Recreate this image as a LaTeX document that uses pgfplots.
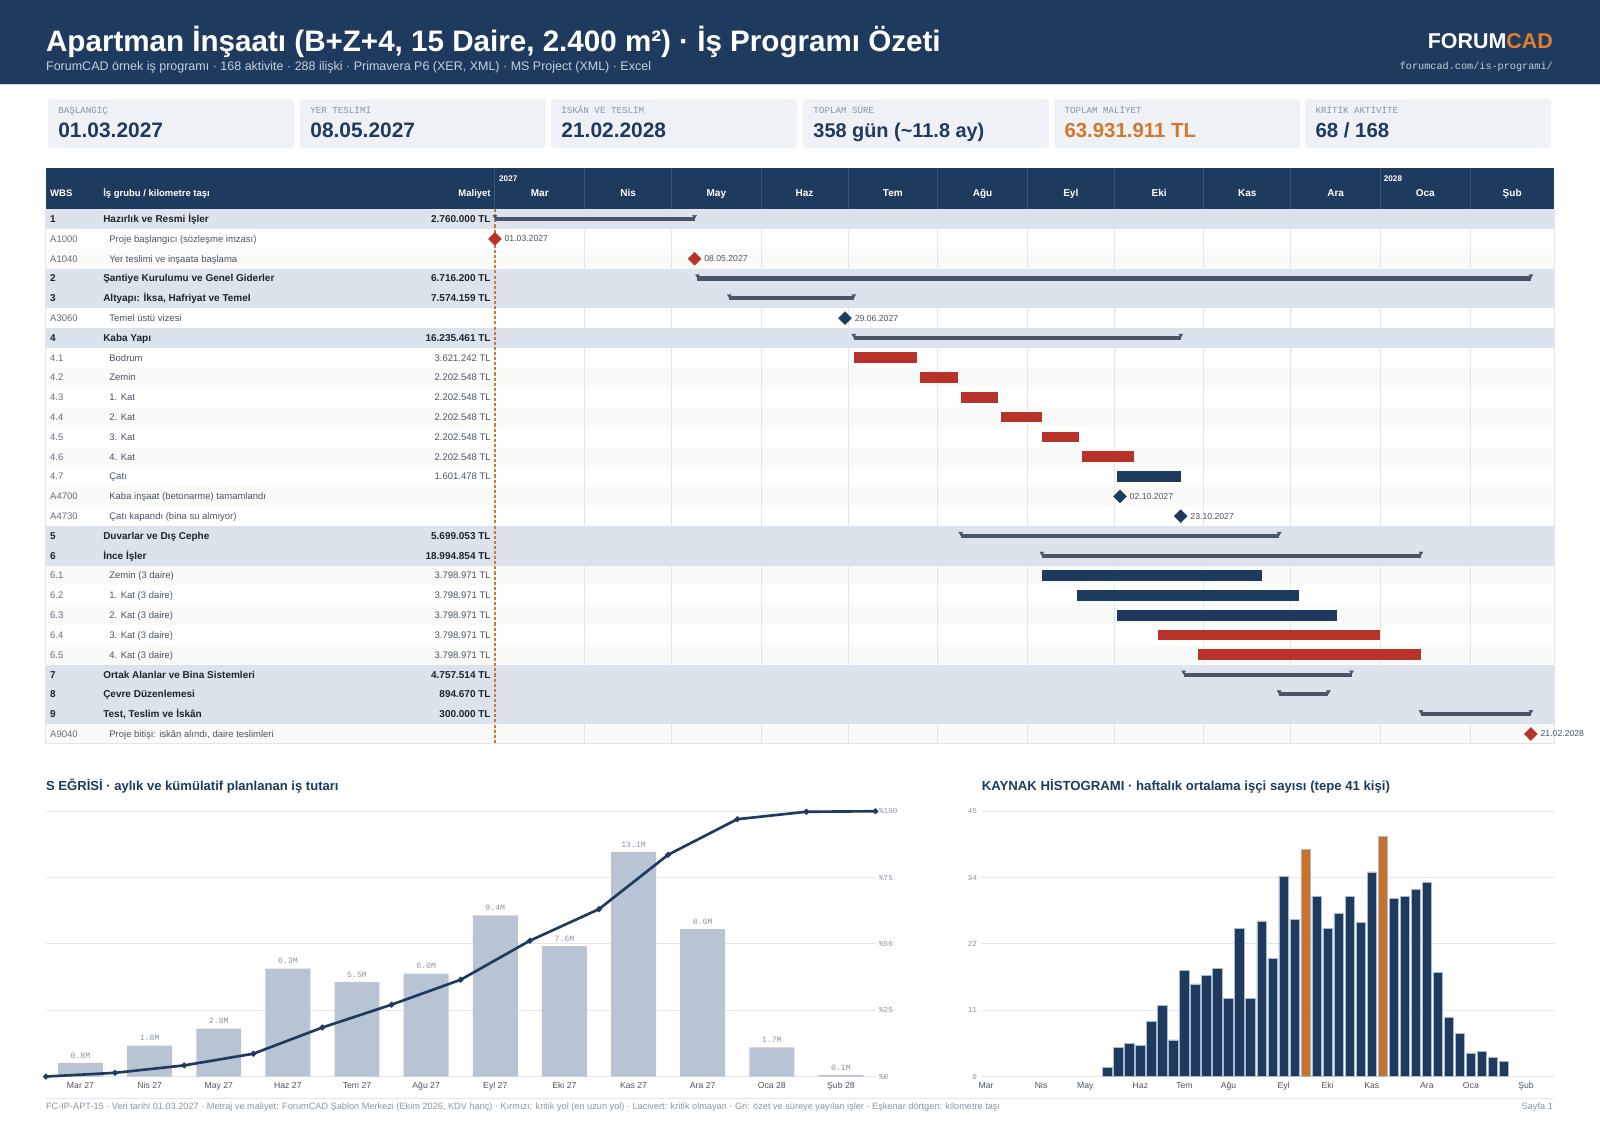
\documentclass[border=0pt]{standalone}
\usepackage{fontspec}
\setmainfont{Liberation Sans}
\setmonofont{Liberation Mono}
\usepackage{pgfplots}
\pgfplotsset{compat=1.18}
\usepackage{pgfplotstable}

\definecolor{navy}{HTML}{1F3A5F}
\definecolor{hdrsub}{HTML}{C5D0DF}
\definecolor{hline}{HTML}{D9DEE5}
\definecolor{orng}{HTML}{E07F2E}
\definecolor{orng2}{HTML}{D2772B}
\definecolor{crit}{HTML}{B8322A}
\definecolor{sumbar}{HTML}{4A5568}
\definecolor{sumbg}{HTML}{DCE3EC}
\definecolor{litebg}{HTML}{FAFAF8}
\definecolor{gridc}{HTML}{E2E5E9}
\definecolor{cardbg}{HTML}{EEF1F5}
\definecolor{lbl}{HTML}{8B95A4}
\definecolor{txtd}{HTML}{1C2430}
\definecolor{txtg}{HTML}{4B5563}
\definecolor{sbar}{HTML}{B8C4D4}
\definecolor{horng}{HTML}{C9722B}
\definecolor{hsep}{HTML}{3A557C}
\definecolor{hbord}{HTML}{A9BAD0}

\newcommand{\fs}[1]{\fontsize{#1}{#1}\selectfont}

% ---------- Gantt data (days from 01.03.2027; rows from top) ----------
\pgfplotstableread{
r s d
8 124 22
9 147 13
10 161 13
11 175 14
12 189 13
13 203 18
22 229 77
23 243 77
}\critbars
\pgfplotstableread{
r s d
14 215 22
19 189 76
20 201 77
21 215 76
}\normbars
\pgfplotstableread{
r s e
1 0 69
4 70 358
5 81 124
7 124 237
17 161 271
18 189 320
24 238 296
25 271 288
26 320 358
}\sumbars
\pgfplotstableread{
x r lab
0 2 01.03.2027
69 3 08.05.2027
358 27 21.02.2028
}\critms
\pgfplotstableread{
x r lab
121 6 29.06.2027
216 15 02.10.2027
237 16 23.10.2027
}\normms

% ---------- S curve ----------
\pgfplotstableread{
x y lab
0 0.8 0.8M
1 1.8 1.8M
2 2.8 2.8M
3 6.3 6.3M
4 5.5 5.5M
5 6.0 6.0M
6 9.4 9.4M
7 7.6 7.6M
8 13.1 13.1M
9 8.6 8.6M
10 1.7 1.7M
11 0.1 0.1M
}\monthly
\pgfplotstableread{
x p
-0.5 0
0.5 1.4
1.5 4.2
2.5 8.6
3.5 18.5
4.5 27.1
5.5 36.5
6.5 51.2
7.5 63.1
8.5 83.6
9.5 97.0
10.5 99.8
11.5 100
}\cumul

% ---------- Histogram (week index from 01.03.2027) ----------
\pgfplotstableread{
w n
11 1.6
12 4.9
13 5.6
14 5.3
15 9.3
16 12.0
17 6.2
18 18.0
19 15.7
20 17.1
21 18.4
22 13.3
23 25.1
24 13.3
25 26.4
26 20.0
27 34.0
28 26.7
30 30.5
31 25.1
32 27.6
33 30.5
34 26.2
35 34.7
37 30.2
38 30.5
39 31.8
40 32.9
41 17.7
42 10.0
43 7.3
44 4.0
45 4.3
46 3.3
47 2.5
}\weekly
\pgfplotstableread{
w n
29 38.5
36 40.8
}\weekpeak

\newcommand{\srow}[4]{%
\node[anchor=base west,inner sep=0,font=\fs{9.8}\bfseries,text=txtd] at (49,{205+19.407*(#1-0.5)+3.4}) {#2};%
\node[anchor=base west,inner sep=0,font=\fs{9.8}\bfseries,text=txtd] at (101,{205+19.407*(#1-0.5)+3.4}) {#3};%
\node[anchor=base east,inner sep=0,font=\fs{9.8}\bfseries,text=txtd] at (481,{205+19.407*(#1-0.5)+3.4}) {#4};}
\newcommand{\drow}[4]{%
\node[anchor=base west,inner sep=0,font=\fs{9.3},text=txtg!85] at (49,{205+19.407*(#1-0.5)+3.3}) {#2};%
\node[anchor=base west,inner sep=0,font=\fs{9.3},text=txtg] at (107,{205+19.407*(#1-0.5)+3.3}) {#3};%
\node[anchor=base east,inner sep=0,font=\fs{9.3},text=txtg] at (481,{205+19.407*(#1-0.5)+3.3}) {#4};}
\newcommand{\kpi}[5]{%
\fill[cardbg,rounded corners=3pt] (#1,97) rectangle ++(241,48);%
\node[anchor=base west,inner sep=0,font=\ttfamily\fs{9},text=lbl] at ({#1+10},111) {#2};%
\node[anchor=base west,inner sep=0,font=\fs{#5}\bfseries,text=#4] at ({#1+10},135) {#3};}

\begin{document}
\begin{tikzpicture}
\begin{scope}[x=1pt,y=-1pt]
\useasboundingbox (0,0) rectangle (1568,1109);
\fill[white] (0,0) rectangle (1568,1109);

% ---------- header ----------
\fill[navy] (0,0) rectangle (1568,82);
\fill[hline] (0,82) rectangle (1568,83.5);
\node[anchor=base west,inner sep=0,font=\fs{29}\bfseries,text=white] at (45,50) {Apartman İnşaatı (B+Z+4, 15 Daire, 2.400 m²) · İş Programı Özeti};
\node[anchor=base west,inner sep=0,font=\fs{12.25},text=hdrsub] at (45,69) {ForumCAD örnek iş programı · 168 aktivite · 288 ilişki · Primavera P6 (XER, XML) · MS Project (XML) · Excel};
\node[anchor=base east,inner sep=0,font=\fs{21}\bfseries,text=white] at (1522,48) {FORUM\textcolor{orng}{CAD}};
\node[anchor=base east,inner sep=0,font=\ttfamily\fs{10},text=hdrsub] at (1522,68) {forumcad.com/is-programi/};

% ---------- KPI cards ----------
\kpi{47}{BAŞLANGIÇ}{01.03.2027}{navy}{20.5}
\kpi{294}{YER TESLİMİ}{08.05.2027}{navy}{20.5}
\kpi{540}{İSKÂN VE TESLİM}{21.02.2028}{navy}{20.5}
\kpi{787}{TOPLAM SÜRE}{358 gün (\textasciitilde 11.8 ay)}{navy}{19.5}
\kpi{1033}{TOPLAM MALİYET}{63.931.911 TL}{orng2}{20}
\kpi{1279}{KRİTİK AKTİVİTE}{68 / 168}{navy}{20}

% ---------- Gantt table header ----------
\fill[navy] (45,165) rectangle (1523,205);
\foreach \xb in {485,572.9,658.0,745.9,831.0,918.9,1006.8,1091.9,1179.8,1264.9,1352.8,1440.7}
  \draw[hsep,line width=0.8] (\xb,165) -- (\xb,205);
\node[anchor=base west,inner sep=0,font=\fs{9.3}\bfseries,text=white] at (49,193) {WBS};
\node[anchor=base west,inner sep=0,font=\fs{9.3}\bfseries,text=white] at (101,193) {İş grubu / kilometre taşı};
\node[anchor=base east,inner sep=0,font=\fs{9.3}\bfseries,text=white] at (481,193) {Maliyet};
\node[anchor=base west,inner sep=0,font=\fs{8}\bfseries,text=white] at (489,178) {2027};
\node[anchor=base west,inner sep=0,font=\fs{8}\bfseries,text=white] at (1356,178) {2028};
\foreach \xm/\nm in {529/Mar,615.5/Nis,702/May,788.5/Haz,875/Tem,962.9/Ağu,1049.4/Eyl,1135.9/Eki,1222.4/Kas,1308.9/Ara,1396.8/Oca,1481.9/Şub}
  \node[anchor=base,inner sep=0,font=\fs{9.8}\bfseries,text=white] at (\xm,193) {\nm};

% ---------- Gantt rows ----------
\foreach \r in {3,9,11,13,15,19,21,23,27}
  \fill[litebg] (45,{205+19.407*(\r-1)}) rectangle (1523,{205+19.407*\r});
\foreach \xb in {572.9,658.0,745.9,831.0,918.9,1006.8,1091.9,1179.8,1264.9,1352.8,1440.7}
  \draw[gridc,line width=0.9] (\xb,205) -- (\xb,729);
\foreach \r in {1,4,5,7,17,18,24,25,26}
  \fill[sumbg] (45,{205+19.407*(\r-1)}) rectangle (1523,{205+19.407*\r});
\draw[gridc,line width=0.9] (45,205) rectangle (1523,729);

\srow{1}{1}{Hazırlık ve Resmi İşler}{2.760.000 TL}
\drow{2}{A1000}{Proje başlangıcı (sözleşme imzası)}{}
\drow{3}{A1040}{Yer teslimi ve inşaata başlama}{}
\srow{4}{2}{Şantiye Kurulumu ve Genel Giderler}{6.716.200 TL}
\srow{5}{3}{Altyapı: İksa, Hafriyat ve Temel}{7.574.159 TL}
\drow{6}{A3060}{Temel üstü vizesi}{}
\srow{7}{4}{Kaba Yapı}{16.235.461 TL}
\drow{8}{4.1}{Bodrum}{3.621.242 TL}
\drow{9}{4.2}{Zemin}{2.202.548 TL}
\drow{10}{4.3}{1. Kat}{2.202.548 TL}
\drow{11}{4.4}{2. Kat}{2.202.548 TL}
\drow{12}{4.5}{3. Kat}{2.202.548 TL}
\drow{13}{4.6}{4. Kat}{2.202.548 TL}
\drow{14}{4.7}{Çatı}{1.601.478 TL}
\drow{15}{A4700}{Kaba inşaat (betonarme) tamamlandı}{}
\drow{16}{A4730}{Çatı kapandı (bina su almıyor)}{}
\srow{17}{5}{Duvarlar ve Dış Cephe}{5.699.053 TL}
\srow{18}{6}{İnce İşler}{18.994.854 TL}
\drow{19}{6.1}{Zemin (3 daire)}{3.798.971 TL}
\drow{20}{6.2}{1. Kat (3 daire)}{3.798.971 TL}
\drow{21}{6.3}{2. Kat (3 daire)}{3.798.971 TL}
\drow{22}{6.4}{3. Kat (3 daire)}{3.798.971 TL}
\drow{23}{6.5}{4. Kat (3 daire)}{3.798.971 TL}
\srow{24}{7}{Ortak Alanlar ve Bina Sistemleri}{4.757.514 TL}
\srow{25}{8}{Çevre Düzenlemesi}{894.670 TL}
\srow{26}{9}{Test, Teslim ve İskân}{300.000 TL}
\drow{27}{A9040}{Proje bitişi: iskân alındı, daire teslimleri}{}

\draw[orng2,line width=1.4,dash pattern=on 3pt off 2pt] (485,205) -- (485,729);

% ---------- section titles + footer ----------
\node[anchor=base west,inner sep=0,font=\fs{12.8}\bfseries,text=navy] at (45,775) {S EĞRİSİ · aylık ve kümülatif planlanan iş tutarı};
\node[anchor=base west,inner sep=0,font=\fs{12.9}\bfseries,text=navy] at (962,775) {KAYNAK HİSTOGRAMI · haftalık ortalama işçi sayısı (tepe 41 kişi)};
\draw[gridc,line width=0.9] (45,1076) -- (1523,1076);
\node[anchor=base west,inner sep=0,font=\fs{9},text=lbl] at (45,1087) {FC-IP-APT-15 · Veri tarihi 01.03.2027 · Metraj ve maliyet: ForumCAD Şablon Merkezi (Ekim 2026, KDV hariç) · Kırmızı: kritik yol (en uzun yol) · Lacivert: kritik olmayan · Gri: özet ve süreye yayılan işler · Eşkenar dörtgen: kilometre taşı};
\node[anchor=base east,inner sep=0,font=\fs{9},text=lbl] at (1522,1087) {Sayfa 1};
\end{scope}

% ---------- Gantt axis ----------
\begin{axis}[at={(485pt,-729pt)},anchor=south west,scale only axis,
  width=1038pt,height=524pt,xmin=0,xmax=366,ymin=0,ymax=27,y dir=reverse,
  hide axis,clip=false]
\addplot[draw=none,mark=none,error bars/.cd,x dir=plus,x explicit,error mark=none,
  error bar style={draw=sumbar,line width=4pt}]
  table[x=s,y expr=\thisrow{r}-0.5,x error expr=\thisrow{e}-\thisrow{s}] {\sumbars};
\addplot[only marks,mark=triangle*,mark size=2.2pt,color=sumbar,mark options={rotate=180,yshift=-2.6pt}]
  table[x=s,y expr=\thisrow{r}-0.5] {\sumbars};
\addplot[only marks,mark=triangle*,mark size=2.2pt,color=sumbar,mark options={rotate=180,yshift=-2.6pt}]
  table[x=e,y expr=\thisrow{r}-0.5] {\sumbars};
\addplot[draw=none,mark=none,error bars/.cd,x dir=plus,x explicit,error mark=none,
  error bar style={draw=crit,line width=10.5pt}]
  table[x=s,y expr=\thisrow{r}-0.5,x error=d] {\critbars};
\addplot[draw=none,mark=none,error bars/.cd,x dir=plus,x explicit,error mark=none,
  error bar style={draw=navy,line width=10.5pt}]
  table[x=s,y expr=\thisrow{r}-0.5,x error=d] {\normbars};
\addplot[only marks,mark=square*,mark size=4.5pt,color=crit,mark options={rotate=45},
  nodes near coords,point meta=explicit symbolic,
  nodes near coords style={anchor=west,xshift=6pt,font=\fs{8.5},text=txtg}]
  table[x=x,y expr=\thisrow{r}-0.5,meta=lab] {\critms};
\addplot[only marks,mark=square*,mark size=4.5pt,color=navy,mark options={rotate=45},
  nodes near coords,point meta=explicit symbolic,
  nodes near coords style={anchor=west,xshift=6pt,font=\fs{8.5},text=txtg}]
  table[x=x,y expr=\thisrow{r}-0.5,meta=lab] {\normms};
\end{axis}

% ---------- S curve ----------
\begin{axis}[at={(45pt,-1055pt)},anchor=south west,scale only axis,
  width=813pt,height=260pt,xmin=-0.5,xmax=11.5,ymin=0,ymax=15.47,
  axis line style={draw=none},major tick length=0pt,
  ytick={0,3.8675,7.735,11.6025,15.47},yticklabels={},
  ymajorgrids,grid style={gridc,line width=0.9},
  xtick={0,...,11},
  xticklabels={Mar 27,Nis 27,May 27,Haz 27,Tem 27,Ağu 27,Eyl 27,Eki 27,Kas 27,Ara 27,Oca 28,Şub 28},
  xticklabel style={font=\fs{8.5},text=txtg,yshift=-2pt}]
\addplot[ybar,bar width=0.65,bar shift=0pt,fill=sbar,draw=none,
  nodes near coords,point meta=explicit symbolic,
  nodes near coords style={font=\ttfamily\fs{8},text=lbl,anchor=south,yshift=1pt}]
  table[x=x,y=y,meta=lab] {\monthly};
\end{axis}
\begin{axis}[at={(45pt,-1055pt)},anchor=south west,scale only axis,
  width=813pt,height=260pt,xmin=-0.5,xmax=11.5,ymin=0,ymax=100,
  axis line style={draw=none},major tick length=0pt,clip=false,
  xtick=\empty,ytick={0,25,50,75,100},
  yticklabels={\%0,\%25,\%50,\%75,\%100},yticklabel pos=right,
  yticklabel style={font=\ttfamily\fs{7.5},text=lbl,anchor=west}]
\addplot[navy,line width=2.6pt,mark=*,mark size=1.3pt] table[x=x,y=p] {\cumul};
\end{axis}

% ---------- Histogram ----------
\begin{axis}[at={(961pt,-1055pt)},anchor=south west,scale only axis,
  width=563pt,height=260pt,xmin=-0.5,xmax=51.64,ymin=0,ymax=45,
  axis line style={draw=none},major tick length=0pt,
  ytick={0,11.25,22.5,33.75,45},yticklabels={0,11,22,34,45},
  yticklabel style={font=\ttfamily\fs{7.5},text=lbl},
  ymajorgrids,grid style={gridc,line width=0.9},
  xtick={0,5,9,14,18,22,27,31,35,40,44,49},
  xticklabels={Mar,Nis,May,Haz,Tem,Ağu,Eyl,Eki,Kas,Ara,Oca,Şub},
  xticklabel style={font=\fs{8.5},text=txtg,yshift=-2pt}]
\addplot[ybar,bar width=0.86,bar shift=0pt,fill=navy,draw=hbord,line width=0.7pt]
  table[x=w,y=n] {\weekly};
\addplot[ybar,bar width=0.86,bar shift=0pt,fill=horng,draw=hbord,line width=0.7pt]
  table[x=w,y=n] {\weekpeak};
\end{axis}
\end{tikzpicture}
\end{document}
